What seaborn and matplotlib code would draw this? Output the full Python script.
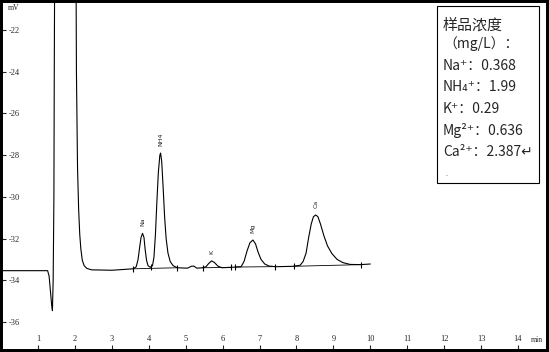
import numpy as np
import pandas as pd
import matplotlib
matplotlib.use("Agg")
import matplotlib.pyplot as plt
from matplotlib.patches import Rectangle
import seaborn as sns

sns.set_style("white")
plt.rcParams['font.family'] = ['Noto Sans CJK SC', 'DejaVu Sans']
plt.rcParams['axes.unicode_minus'] = False

# chromatogram trace (min, mV)
trace_t = [0.00, 1.26, 1.30, 1.34, 1.37, 1.39, 1.41, 1.43, 1.44, 1.46, 1.55, 1.75,
           1.95, 2.02, 2.04, 2.07, 2.10, 2.13, 2.16, 2.20, 2.25, 2.32, 2.45, 3.00,
           3.58, 3.66, 3.71, 3.75, 3.79, 3.83, 3.87, 3.90, 3.94, 3.98, 4.04, 4.10,
           4.14, 4.18, 4.22, 4.26, 4.30, 4.32, 4.35, 4.39, 4.43, 4.47, 4.52, 4.58,
           4.66, 4.77, 5.05, 5.15, 5.22, 5.30, 5.46, 5.55, 5.62, 5.70, 5.78, 5.87,
           5.98, 6.23, 6.50, 6.58, 6.66, 6.74, 6.82, 6.89, 6.96, 7.04, 7.14, 7.26,
           7.45, 7.92, 8.10, 8.18, 8.26, 8.33, 8.40, 8.46, 8.52, 8.58, 8.65, 8.74,
           8.84, 8.96, 9.10, 9.25, 9.45, 9.74, 10.00]
trace_mv = [-33.54, -33.54, -33.80, -34.60, -35.20, -35.46, -34.00, -30.00, -24.00, -15.00, 10.00, 30.00,
            10.00, -15.00, -24.00, -28.60, -30.60, -31.80, -32.50, -33.05, -33.30, -33.43, -33.50, -33.52,
            -33.45, -33.35, -33.00, -32.45, -31.95, -31.75, -31.95, -32.50, -33.05, -33.30, -33.38, -33.30,
            -32.90, -31.80, -30.20, -28.80, -28.00, -27.90, -28.30, -29.60, -31.00, -32.00, -32.70, -33.10,
            -33.30, -33.40, -33.42, -33.33, -33.32, -33.42, -33.40, -33.35, -33.20, -33.07, -33.15, -33.32,
            -33.40, -33.38, -33.35, -33.10, -32.60, -32.20, -32.07, -32.25, -32.65, -33.00, -33.22, -33.32,
            -33.35, -33.33, -33.28, -33.10, -32.70, -31.95, -31.30, -30.95, -30.87, -30.95, -31.30, -31.85,
            -32.35, -32.72, -33.00, -33.15, -33.24, -33.25, -33.22]

# integration marks and baselines
mark_t = [3.58, 4.06, 4.77, 5.46, 6.23, 6.34, 7.42, 7.92, 9.74]
base_start = [3.58, 5.46, 6.34, 7.92]
base_end = [4.77, 6.23, 7.42, 9.74]

# peak labels
peak_names = ["Na", "NH4", "K", "Mg", "Ca"]
peak_t = [3.83, 4.32, 5.70, 6.82, 8.52]
peak_mv = [-31.75, -27.90, -33.07, -32.07, -30.87]

# concentration box
box_lines = ["样品浓度", "（mg/L）：", "Na⁺：0.368", "NH₄⁺：1.99", "K⁺：0.29",
             "Mg²⁺：0.636", "Ca²⁺：2.387↵"]

yticks = [-22, -24, -26, -28, -30, -32, -34, -36]
xticks = list(range(1, 15))

df = pd.DataFrame({'time': trace_t, 'mV': trace_mv})

fig = plt.figure(figsize=(5.49, 3.52), dpi=100)
ax = fig.add_axes([0, 0, 1, 1])

sns.lineplot(data=df, x='time', y='mV', color='black', linewidth=0.8,
             estimator=None, ax=ax)

for s, e in zip(base_start, base_end):
    ax.plot([s, e], np.interp([s, e], trace_t, trace_mv), color='black', linewidth=0.6)
mark_v = np.interp(mark_t, trace_t, trace_mv)
ax.scatter(mark_t, mark_v, marker='|', s=25, color='black', linewidths=0.8)

for name, t, v in zip(peak_names, peak_t, peak_mv):
    ax.annotate(name, (t, v), xytext=(0, 5), textcoords='offset points',
                rotation=90, ha='center', va='bottom', fontsize=4.5,
                family='DejaVu Sans')

ax.set_xlim(-0.03, 14.84)
ax.set_ylim(-37.44, -20.56)
ax.set_xlabel('')
ax.set_ylabel('')

ax.set_yticks(yticks)
ax.set_yticklabels([str(v) for v in yticks], family='Liberation Serif', fontsize=6)
ax.set_xticks(xticks)
ax.set_xticklabels([str(v) for v in xticks], family='Liberation Serif', fontsize=6)
ax.tick_params(axis='y', direction='in', length=4.5, width=0.8, pad=-6, left=True)
ax.tick_params(axis='x', direction='in', length=5, width=0.8, pad=-6.5, bottom=True)
for lab in ax.get_yticklabels():
    lab.set_horizontalalignment('left')
for lab in ax.get_xticklabels():
    lab.set_verticalalignment('bottom')

for sp in ax.spines.values():
    sp.set_visible(True)
    sp.set_color('black')
    sp.set_linewidth(4.3)

ax.text(8 / 549, 1 - 8 / 352, 'mV', transform=ax.transAxes, fontsize=5.5,
        family='Liberation Serif', ha='left', va='center')
ax.text(537 / 549, 12 / 352, 'min', transform=ax.transAxes, fontsize=5.5,
        family='Liberation Serif', ha='center', va='center')

ax.add_patch(Rectangle((437 / 549, 1 - 183 / 352), 102 / 549, 177 / 352,
                       transform=ax.transAxes, fill=False, edgecolor='black',
                       linewidth=0.8))
line_y = [25, 44, 66, 87, 109, 131, 152]
line_size = [10.8, 10, 10, 10, 10, 10, 10]
for txt, yy, fs in zip(box_lines, line_y, line_size):
    ax.text(443 / 549, 1 - yy / 352, txt, transform=ax.transAxes, fontsize=fs,
            ha='left', va='center')
ax.text(445 / 549, 1 - 174 / 352, '.', transform=ax.transAxes, fontsize=5,
        ha='left', va='center', color='#555555')

fig.savefig('out.png', dpi=100)
